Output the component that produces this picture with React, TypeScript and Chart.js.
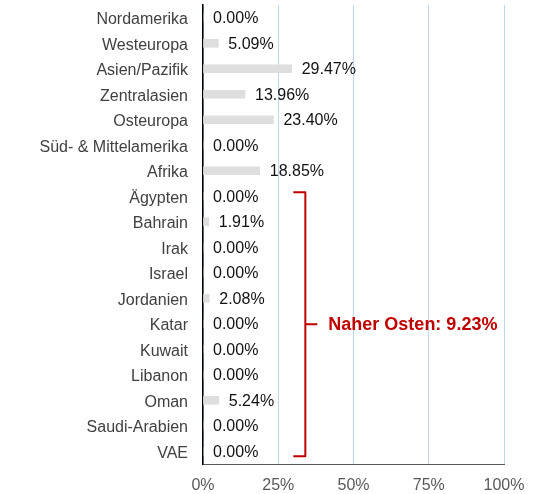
import React, { useEffect, useRef } from "react";
import { Chart, registerables } from "chart.js";

Chart.register(...registerables);

const categories = [
  "Nordamerika",
  "Westeuropa",
  "Asien/Pazifik",
  "Zentralasien",
  "Osteuropa",
  "Süd- & Mittelamerika",
  "Afrika",
  "Ägypten",
  "Bahrain",
  "Irak",
  "Israel",
  "Jordanien",
  "Katar",
  "Kuwait",
  "Libanon",
  "Oman",
  "Saudi-Arabien",
  "VAE",
];

const values = [0, 5.09, 29.47, 13.96, 23.4, 0, 18.85, 0, 1.91, 0, 0, 2.08, 0, 0, 0, 5.24, 0, 0];

const xTicks = [0, 25, 50, 75, 100];

const bracketFrom = "Ägypten";
const bracketTo = "VAE";
const bracketLabel = "Naher Osten: 9.23%";

const FONT = "'Liberation Sans', Arial, sans-serif";

const labelPlugin = {
  id: "valueLabels",
  afterDatasetsDraw(chart: any) {
    const ctx = chart.ctx;
    const meta = chart.getDatasetMeta(0);
    ctx.save();
    ctx.font = `16px ${FONT}`;
    ctx.fillStyle = "#111111";
    ctx.textAlign = "left";
    ctx.textBaseline = "middle";
    meta.data.forEach((bar: any, i: number) => {
      const v = values[i];
      ctx.fillText(v.toFixed(2) + "%", bar.x + 10, bar.y + 1);
    });
    ctx.restore();
  },
};

const bracketPlugin = {
  id: "bracket",
  afterDraw(chart: any) {
    const ctx = chart.ctx;
    const y = chart.scales.y;
    const x = chart.scales.x;
    const top = y.getPixelForValue(categories.indexOf(bracketFrom)) - 4;
    const bottom = y.getPixelForValue(categories.indexOf(bracketTo)) + 5;
    const mid = (top + bottom) / 2;
    const xv = x.getPixelForValue(34);
    const xh = x.getPixelForValue(30);
    ctx.save();
    ctx.strokeStyle = "#c00000";
    ctx.lineWidth = 2;
    ctx.lineJoin = "round";
    ctx.beginPath();
    ctx.moveTo(xh, top);
    ctx.lineTo(xv, top);
    ctx.lineTo(xv, bottom);
    ctx.lineTo(xh, bottom);
    ctx.moveTo(xv, mid);
    ctx.lineTo(xv + 12, mid);
    ctx.stroke();
    ctx.font = `bold 18px ${FONT}`;
    ctx.fillStyle = "#c00000";
    ctx.textAlign = "left";
    ctx.textBaseline = "middle";
    ctx.fillText(bracketLabel, xv + 23, mid + 1);
    ctx.restore();
  },
};

export default function App() {
  const ref = useRef<HTMLCanvasElement>(null);
  useEffect(() => {
    if (!ref.current) return;
    const chart = new Chart(ref.current, {
      type: "bar",
      data: {
        labels: categories,
        datasets: [
          {
            data: values,
            backgroundColor: "#dedede",
            barThickness: 8,
          },
        ],
      },
      options: {
        indexAxis: "y",
        animation: false,
        responsive: false,
        layout: { padding: { top: 5, right: 48, left: 0, bottom: 0 } },
        plugins: {
          legend: { display: false },
          tooltip: { enabled: false },
        },
        scales: {
          x: {
            min: 0,
            max: 100,
            afterBuildTicks(scale: any) {
              scale.ticks = xTicks.map((v) => ({ value: v }));
            },
            afterFit(scale: any) {
              scale.height = 30;
              scale.paddingLeft = 0;
              scale.paddingRight = 0;
            },
            ticks: {
              callback: (v: any) => `${v}%`,
              color: "#595959",
              font: { size: 16, family: FONT },
              padding: 12,
              maxRotation: 0,
            },
            grid: { color: "#bdd7ee", drawTicks: false, lineWidth: 1 },
            border: { color: "#595959", width: 1 },
          },
          y: {
            afterFit(scale: any) {
              scale.width = 203;
              scale.paddingTop = 0;
              scale.paddingBottom = 0;
            },
            ticks: {
              color: "#404040",
              font: { size: 16, family: FONT },
              padding: 15,
              labelOffset: 2,
              autoSkip: false,
            },
            grid: { display: false, drawTicks: false },
            border: { color: "#000000", width: 1.5 },
          },
        },
      },
      plugins: [labelPlugin, bracketPlugin],
    });
    return () => chart.destroy();
  }, []);
  return (
    <div style={{ position: "fixed", left: 0, top: 0, width: 552, height: 494, background: "#fff" }}>
      <canvas ref={ref} width={552} height={494} />
    </div>
  );
}
